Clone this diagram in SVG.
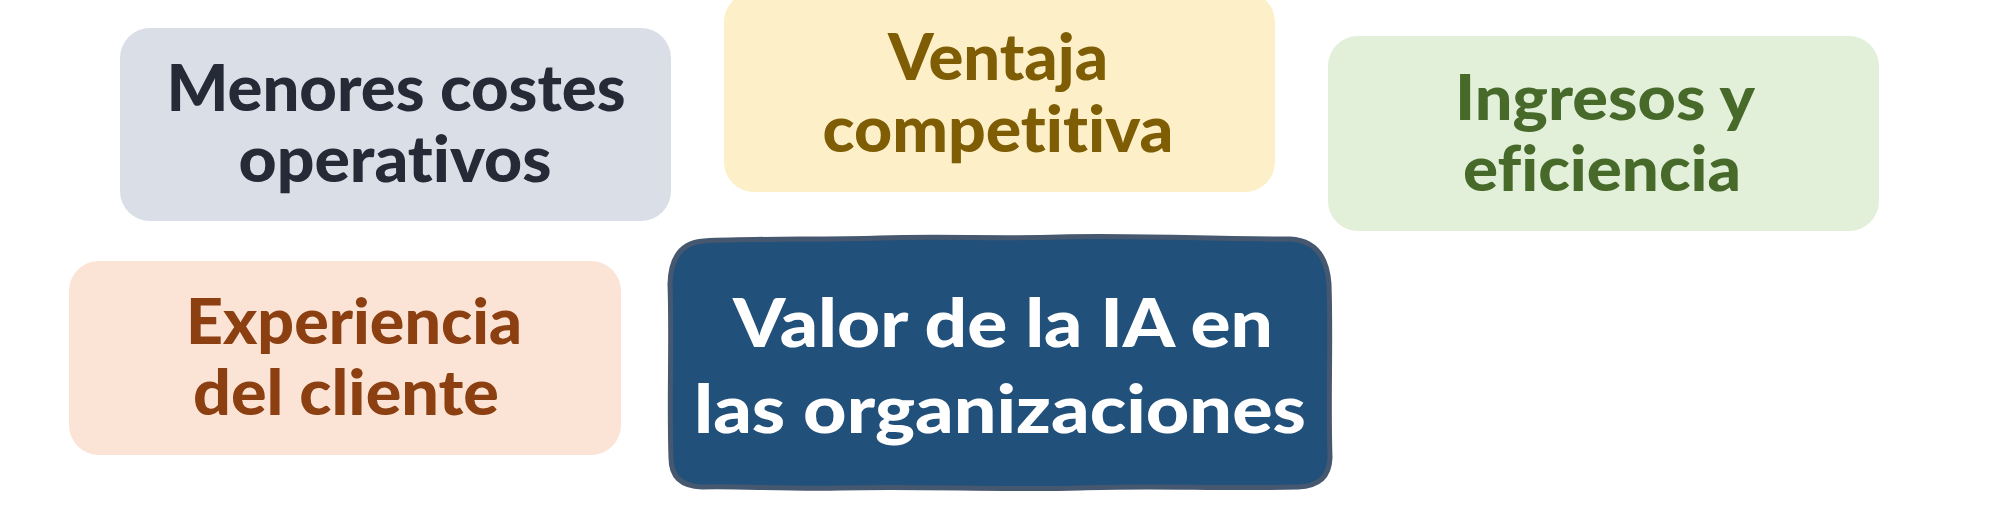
<svg xmlns="http://www.w3.org/2000/svg" width="2000" height="528" viewBox="0 0 2000 528">
  <style>
    .lbl { font-family: Lato, "Open Sans", "Noto Sans", "DejaVu Sans", sans-serif; font-weight: 900; text-anchor: middle; font-variant-ligatures: none; font-feature-settings: "liga" 0, "clig" 0; }
    .b1 { fill: #d9dee7; }
    .t1 { fill: #242a36; }
    .b2 { fill: #fdf0c9; }
    .t2 { fill: #7e5d05; }
    .b3 { fill: #e2efd9; }
    .t3 { fill: #476a2a; }
    .b4 { fill: #fbe4d6; }
    .t4 { fill: #8c3f10; }
    .b5 { fill: #21507b; stroke: #46586f; stroke-width: 5; stroke-linejoin: round; }
    .t5 { fill: #ffffff; }
  </style>
  <rect x="0" y="0" width="2000" height="528" fill="#ffffff"/>

  <g id="connectors"></g>

  <g id="node-costes">
    <rect class="b1" x="120" y="28" width="551" height="193" rx="30" ry="30"/>
    <text class="lbl t1" x="396" y="111" font-size="64" textLength="459" lengthAdjust="spacingAndGlyphs">Menores costes</text>
    <text class="lbl t1" x="395" y="182" font-size="64" textLength="313" lengthAdjust="spacingAndGlyphs">operativos</text>
  </g>

  <g id="node-ventaja">
    <rect class="b2" x="724" y="-8" width="551" height="200" rx="30" ry="30"/>
    <text class="lbl t2" x="998" y="80" font-size="64" textLength="220" lengthAdjust="spacingAndGlyphs">Ventaja</text>
    <text class="lbl t2" x="998" y="152" font-size="64" textLength="351" lengthAdjust="spacingAndGlyphs">competitiva</text>
  </g>

  <g id="node-ingresos">
    <rect class="b3" x="1328" y="36" width="551" height="195" rx="30" ry="30"/>
    <text class="lbl t3" x="1605" y="120" font-size="63" textLength="300" lengthAdjust="spacingAndGlyphs">Ingresos y</text>
    <text class="lbl t3" x="1602" y="191" font-size="63" textLength="278" lengthAdjust="spacingAndGlyphs">eficiencia</text>
  </g>

  <g id="node-experiencia">
    <rect class="b4" x="69" y="261" width="552" height="194" rx="30" ry="30"/>
    <text class="lbl t4" x="354" y="344" font-size="62" textLength="336" lengthAdjust="spacingAndGlyphs">Experiencia</text>
    <text class="lbl t4" x="346" y="415" font-size="62" textLength="306" lengthAdjust="spacingAndGlyphs">del cliente</text>
  </g>

  <g id="node-valor">
    <path class="b5" d="M 704,241 C 760,238 820,240 880,238 C 940,236 1000,239 1060,237 C 1130,235 1200,239 1290,239 Q 1326,241 1329,284 C 1331,340 1328,400 1330,458 Q 1329,486 1298,487 C 1220,489 1150,485 1080,488 C 1000,490 920,486 840,488 C 780,489 740,486 702,487 Q 671,486 671,458 C 669,400 672,340 670,284 Q 671,243 704,241 Z"/>
    <text class="lbl t5" x="1003" y="347" font-size="67" textLength="540" lengthAdjust="spacingAndGlyphs">Valor de la IA en</text>
    <text class="lbl t5" x="1000" y="433" font-size="67" textLength="612" lengthAdjust="spacingAndGlyphs">las organizaciones</text>
  </g>
</svg>
